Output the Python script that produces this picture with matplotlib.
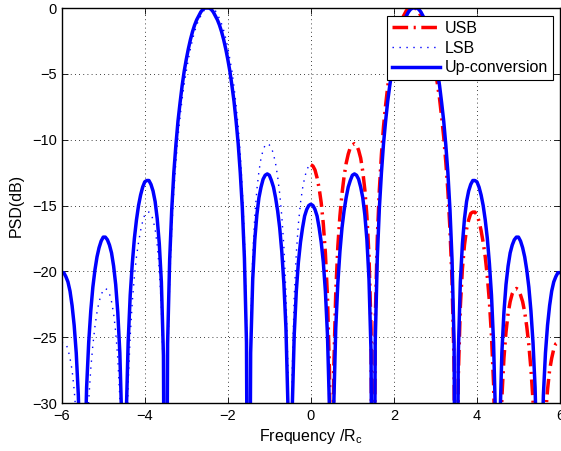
import numpy as np
import matplotlib
matplotlib.use('Agg')
import matplotlib.pyplot as plt

# frequency grid (normalised to chip rate), 0.05 step from -6 to 6
freq = np.round(np.linspace(-6, 6, 241), 2)
freq_usb = freq[freq >= 0]
freq_lsb = freq[freq <= 0]

# PSD in dB; spectral nulls are stored as -60 (far below the plot floor)
upconv_db = [
    -20.1, -20.1, -20.4, -20.8, -21.5, -22.6, -24.1, -26.2, -29.4, -35.2, -60,
    -34.9, -28.8, -25.4, -23.0, -21.2, -19.9, -18.9, -18.2, -17.7, -17.4,
    -17.4, -17.6, -18.0, -18.6, -19.6, -21.0, -23.1, -26.2, -31.9, -60,
    -31.5, -25.4, -21.8, -19.4, -17.5, -16.1, -15.0, -14.2, -13.6, -13.2,
    -13.1, -13.1, -13.4, -13.9, -14.7, -16.0, -17.9, -20.8, -26.4, -60,
    -25.5, -19.1, -15.3, -12.5, -10.4, -8.6, -7.2, -5.9, -4.8, -3.9,
    -3.1, -2.4, -1.8, -1.3, -0.9, -0.6, -0.3, -0.1, 0.0, 0.0,
    0.0, -0.1, -0.3, -0.6, -0.9, -1.3, -1.8, -2.4, -3.1, -3.9,
    -4.8, -5.9, -7.1, -8.6, -10.3, -12.5, -15.2, -19.0, -25.4, -60,
    -26.2, -20.6, -17.6, -15.7, -14.4, -13.6, -13.0, -12.7, -12.6, -12.7,
    -13.1, -13.6, -14.4, -15.4, -16.7, -18.5, -20.9, -24.3, -30.4, -60,
    -30.6, -24.8, -21.5, -19.3, -17.8, -16.7, -15.8, -15.3, -15.0,
    -14.9,
    -15.0, -15.3, -15.8, -16.7, -17.8, -19.3, -21.5, -24.8, -30.6,
    -60, -30.4, -24.3, -20.9, -18.5, -16.7, -15.4, -14.4, -13.6, -13.1,
    -12.7, -12.6, -12.7, -13.0, -13.6, -14.4, -15.7, -17.6, -20.6, -26.2,
    -60, -25.4, -19.0, -15.2, -12.5, -10.3, -8.6, -7.1, -5.9, -4.8,
    -3.9, -3.1, -2.4, -1.8, -1.3, -0.9, -0.6, -0.3, -0.1, 0.0,
    0.0, 0.0, -0.1, -0.3, -0.6, -0.9, -1.3, -1.8, -2.4, -3.1,
    -3.9, -4.8, -5.9, -7.2, -8.6, -10.4, -12.5, -15.3, -19.1, -25.5,
    -60, -26.4, -20.8, -17.9, -16.0, -14.7, -13.9, -13.4, -13.1, -13.1,
    -13.2, -13.6, -14.2, -15.0, -16.1, -17.5, -19.4, -21.8, -25.4, -31.5,
    -60, -31.9, -26.2, -23.1, -21.0, -19.6, -18.6, -18.0, -17.6, -17.4,
    -17.4, -17.7, -18.2, -18.9, -19.9, -21.2, -23.0, -25.4, -28.8, -34.9,
    -60, -35.2, -29.4, -26.2, -24.1, -22.6, -21.5, -20.8, -20.4, -20.1,
    -20.1,
]

usb_db = [
    -11.9, -12.0, -12.3, -12.9, -13.7, -14.8, -16.4, -18.6, -21.9, -27.7,
    -60, -27.6, -21.6, -18.1, -15.8, -14.1, -12.8, -11.8, -11.1, -10.6,
    -10.4, -10.3, -10.4, -10.8, -11.4, -12.4, -13.8, -15.8, -18.8, -24.4,
    -60, -23.8, -17.5, -13.8, -11.1, -9.0, -7.4, -6.0, -4.8, -3.9,
    -3.0, -2.3, -1.7, -1.2, -0.8, -0.5, -0.2, -0.1, 0.0, 0.0,
    0.0, -0.1, -0.3, -0.6, -0.9, -1.3, -1.8, -2.4, -3.1, -3.9,
    -4.8, -5.8, -6.9, -8.3, -9.8, -11.7, -13.9, -16.8, -20.7, -27.1,
    -60, -28.1, -22.7, -19.8, -18.0, -16.8, -16.1, -15.6, -15.5, -15.5,
    -15.7, -16.2, -16.9, -17.8, -18.9, -20.4, -22.3, -24.9, -28.5, -34.7,
    -60, -35.3, -29.6, -26.6, -24.6, -23.2, -22.3, -21.7, -21.4, -21.3,
    -21.4, -21.8, -22.3, -23.1, -24.2, -25.6, -27.4, -29.8, -33.4, -39.5,
    -60, -39.9, -34.2, -31.0, -29.0, -27.5, -26.6, -25.9, -25.5, -25.4,
    -25.4,
]

lsb_db = [
    -25.4,
    -25.4, -25.5, -25.9, -26.6, -27.5, -29.0, -31.0, -34.2, -39.9, -60,
    -39.5, -33.4, -29.8, -27.4, -25.6, -24.2, -23.1, -22.3, -21.8, -21.4,
    -21.3, -21.4, -21.7, -22.3, -23.2, -24.6, -26.6, -29.6, -35.3, -60,
    -34.7, -28.5, -24.9, -22.3, -20.4, -18.9, -17.8, -16.9, -16.2, -15.7,
    -15.5, -15.5, -15.6, -16.1, -16.8, -18.0, -19.8, -22.7, -28.1, -60,
    -27.1, -20.7, -16.8, -13.9, -11.7, -9.8, -8.3, -6.9, -5.8, -4.8,
    -3.9, -3.1, -2.4, -1.8, -1.3, -0.9, -0.6, -0.3, -0.1, 0.0,
    0.0, 0.0, -0.1, -0.2, -0.5, -0.8, -1.2, -1.7, -2.3, -3.0,
    -3.9, -4.8, -6.0, -7.4, -9.0, -11.1, -13.8, -17.5, -23.8, -60,
    -24.4, -18.8, -15.8, -13.8, -12.4, -11.4, -10.8, -10.4, -10.3, -10.4,
    -10.6, -11.1, -11.8, -12.8, -14.1, -15.8, -18.1, -21.6, -27.6, -60,
    -27.7, -21.9, -18.6, -16.4, -14.8, -13.7, -12.9, -12.3, -12.0, -11.9,
]

xticks = [-6, -4, -2, 0, 2, 4, 6]
yticks = [-30, -25, -20, -15, -10, -5, 0]

plt.rcParams['font.family'] = ['Liberation Sans', 'DejaVu Sans']
plt.rcParams['font.size'] = 10.5

fig = plt.figure(figsize=(5.61, 4.51), dpi=100)
ax = fig.add_axes([0.110, 0.1064, 0.8882, 0.8758])

ax.plot(freq_usb, usb_db, color='r', lw=2.5, ls=(0, (4.5, 1.6, 0.6, 1.6)),
        label='USB')
ax.plot(freq_lsb, lsb_db, color='b', lw=1.0, ls=(0, (1, 4)), label='LSB')
ax.plot(freq, upconv_db, color='b', lw=2.5, label='Up-conversion')

ax.set_xlim(-6, 6)
ax.set_ylim(-30, 0)
ax.set_xticks(xticks)
ax.set_yticks(yticks)
ax.grid(True, color='k', ls=(0, (1, 4)), lw=0.6)
ax.tick_params(direction='in', top=True, right=True, length=4, width=0.6)
ax.tick_params(axis='x', pad=4.5)
for s in ax.spines.values():
    s.set_linewidth(1.0)

ax.set_xlabel('Frequency /R$_\\mathregular{c}$', fontsize=11.5, labelpad=3)
ax.set_ylabel('PSD(dB)', fontsize=11.5, labelpad=6)

leg = ax.legend(loc='upper right', bbox_to_anchor=(0.985, 0.980),
                borderaxespad=0, fontsize=11.5, fancybox=False,
                edgecolor='k', framealpha=1, handlelength=3.0,
                handletextpad=0.3, labelspacing=0.3, borderpad=0.3)
leg.get_frame().set_linewidth(0.8)

plt.savefig('out.png', dpi=100)
